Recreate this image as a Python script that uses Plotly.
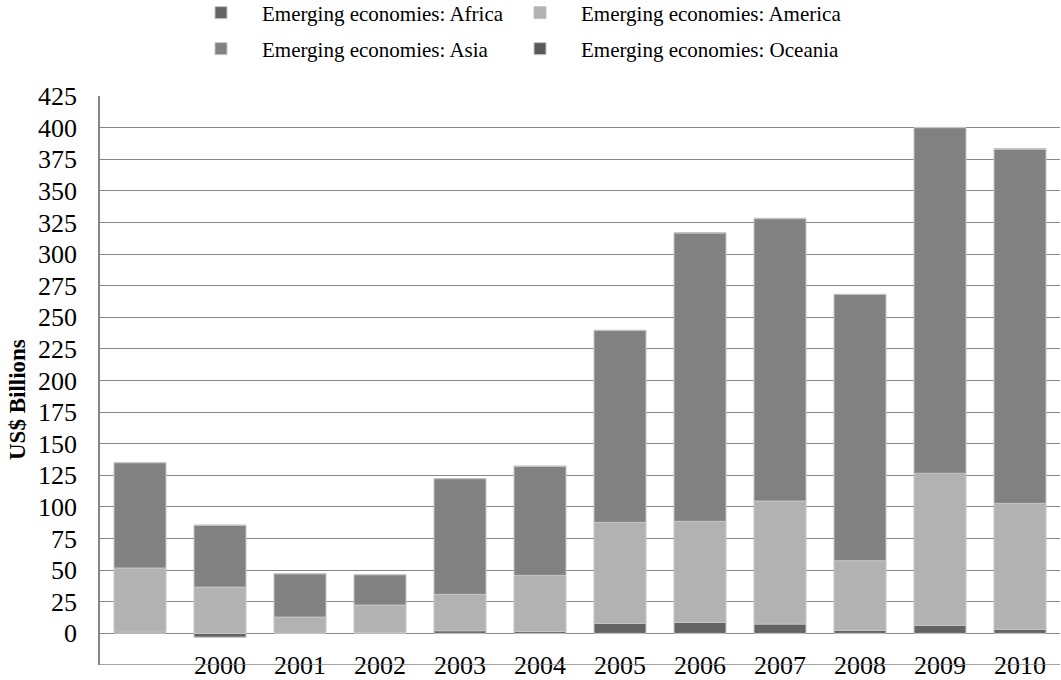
import plotly.graph_objects as go

years = [1999, 2000, 2001, 2002, 2003, 2004, 2005, 2006, 2007, 2008, 2009, 2010]
tick_labels = ["", "2000", "2001", "2002", "2003", "2004", "2005", "2006", "2007", "2008", "2009", "2010"]

africa = [1.0, -3.0, 0.2, 0.5, 2.1, 1.6, 7.9, 8.7, 7.4, 2.4, 6.3, 3.2]
america = [50.7, 36.6, 12.7, 21.9, 28.8, 44.3, 79.9, 79.9, 97.3, 55.1, 120.3, 99.6]
asia = [83.3, 48.8, 34.3, 24.0, 91.5, 86.2, 151.7, 228.1, 223.3, 210.5, 273.4, 280.2]
oceania = [0.1, 0.3, 0.1, 0.2, 0.1, 0.2, 0.3, 0.2, 0.3, 0.2, 0.2, 0.3]

y_ticks = list(range(-25, 426, 25))
y_tick_labels = [str(v) for v in y_ticks]

FONT = "Liberation Serif"
GRID = "#868686"
EDGE = "#c4c4c4"

series = [
    ("Emerging economies: Africa", africa, "#636363", "legend", 180, 13),
    ("Emerging economies: America", america, "#b2b2b2", "legend2", 499, 13),
    ("Emerging economies: Asia", asia, "#818181", "legend3", 180, 49),
    ("Emerging economies: Oceania", oceania, "#595959", "legend4", 499, 49),
]

fig = go.Figure()
legends = {}
for name, vals, color, leg, lx, ly in series:
    fig.add_trace(go.Bar(x=years, y=vals, name=name, showlegend=True,
                         marker=dict(color=color, line=dict(color=EDGE, width=1)), legend=leg))
    legends[leg] = dict(orientation="h", xref="container", yref="container",
                        x=lx / 1061, y=1 - ly / 680, visible=True,
                        xanchor="left", yanchor="middle", itemwidth=72,
                        font=dict(family=FONT, size=21, color="#000000"),
                        bgcolor="rgba(0,0,0,0)")

fig.update_layout(
    width=1061, height=680,
    showlegend=True,
    margin=dict(l=100, r=1, t=96, b=15, autoexpand=False),
    paper_bgcolor="white", plot_bgcolor="white",
    barmode="relative", bargap=0.35,
    font=dict(family=FONT, color="#000000"),
    xaxis=dict(range=[1998.5, 2010.5], tickvals=years, ticktext=tick_labels,
               showgrid=False, showline=False, anchor="free", position=18 / 569,
               ticks="", automargin=False,
               tickfont=dict(family=FONT, size=26, color="#000000"), zeroline=False),
    yaxis=dict(range=[-25, 425], tickvals=y_ticks, ticktext=y_tick_labels,
               showgrid=True, gridcolor=GRID, gridwidth=1.3,
               showline=True, linecolor=GRID, linewidth=1.5, zeroline=False,
               ticks="", ticklabelstandoff=16, automargin=False,
               tickfont=dict(family=FONT, size=26, color="#000000")),
    shapes=[dict(type="line", xref="paper", x0=0, x1=1, yref="y", y0=-25, y1=-25,
                 line=dict(color=GRID, width=1.5), layer="above")],
    annotations=[dict(text="<b>US$ Billions</b>", textangle=-90, xref="paper", yref="paper",
                      x=0, xanchor="center", xshift=-82, y=(665 - 400) / 569, yanchor="middle",
                      showarrow=False,
                      font=dict(family=FONT, size=23, color="#000000"))],
    **legends,
)

fig.write_html("out.html", config={"displayModeBar": False},
               post_script="document.body.style.margin='0';document.body.style.overflow='hidden';")
